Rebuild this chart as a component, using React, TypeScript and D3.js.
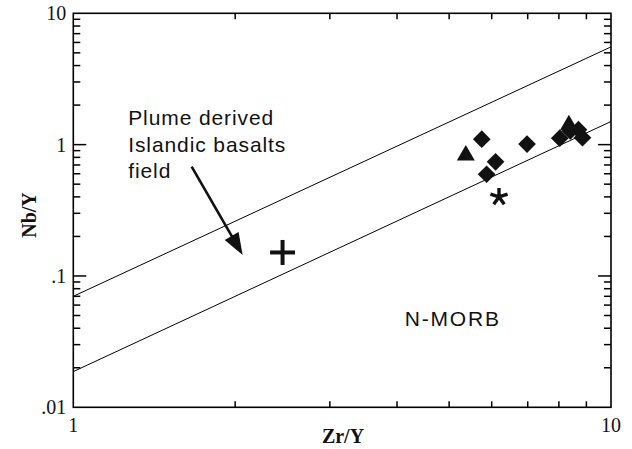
import React from 'react'
import * as d3 from 'd3'

// Zr/Y vs Nb/Y discrimination diagram
const diamondX = [5.75, 6.98, 6.10, 5.87, 8.03, 8.40, 8.70, 8.85]
const diamondY = [1.10, 1.01, 0.74, 0.595, 1.12, 1.27, 1.30, 1.13]
const triangleX = [5.37, 8.35]
const triangleY = [0.83, 1.41]
const starX = [6.19]
const starY = [0.40]
const crossX = [2.45]
const crossY = [0.151]

// field boundary lines (Zr/Y = 1 and 10)
const boundX = [1, 10]
const upperY = [0.07, 5.55]
const lowerY = [0.0187, 1.5]

const yTicks = [0.01, 0.1, 1, 10]
const yTickLabels = ['.01', '.1', '1', '10']
const xTicks = [1, 10]
const xTickLabels = ['1', '10']

const noteLines = ['Plume derived', 'Islandic basalts', 'field']

const W = 632
const H = 449
const margin = {top: 13.3, right: 21, bottom: 41.7, left: 73.3}

export default function App() {
    const innerW = W - margin.left - margin.right
    const innerH = H - margin.top - margin.bottom

    const x = d3.scaleLog().domain([1, 10]).range([margin.left, margin.left + innerW])
    const y = d3.scaleLog().domain([0.01, 10]).range([margin.top + innerH, margin.top])

    const x0 = margin.left, x1 = margin.left + innerW
    const y0 = margin.top + innerH, y1 = margin.top

    // minor ticks 2..9 in each decade
    const minorX = d3.range(2, 10)
    const minorY: number[] = []
    ;[0.01, 0.1, 1].forEach(d => d3.range(2, 10).forEach(k => minorY.push(d * k)))

    const line = d3.line<number>()
        .x((d, i) => x(boundX[i]))
        .y(d => y(d))

    const diamond = d3.symbol().type(d3.symbolDiamond2).size(200)()
    const triangle = d3.symbol().type(d3.symbolTriangle).size(140)()

    // five armed asterisk
    const starArms = d3.range(5).map(i => {
        const a = -Math.PI / 2 + i * 2 * Math.PI / 5
        return `M0,0L${9 * Math.cos(a)},${9 * Math.sin(a)}`
    }).join('')

    // arrow from label to field
    const ax0 = x(1.66), ay0 = y(0.68)
    const ax1 = x(2.065), ay1 = y(0.1445)
    const len = Math.hypot(ax1 - ax0, ay1 - ay0)
    const ux = (ax1 - ax0) / len, uy = (ay1 - ay0) / len
    const hl = 22, hw = 8
    const bx = ax1 - ux * hl, by = ay1 - uy * hl
    const head = `M${ax1},${ay1}L${bx - uy * hw},${by + ux * hw}L${bx + uy * hw},${by - ux * hw}Z`

    const serif = '"Liberation Serif", "Times New Roman", serif'
    const sans = '"Liberation Sans", Arial, sans-serif'

    return (
        <svg width={W} height={H} style={{position: 'absolute', left: 0, top: 0, background: '#fff'}}>
            <rect x={0} y={0} width={W} height={H} fill="#fff" />

            {/* boundary lines */}
            <path d={line(upperY) || ''} fill="none" stroke="#000" strokeWidth={1} />
            <path d={line(lowerY) || ''} fill="none" stroke="#000" strokeWidth={1} />

            {/* ticks */}
            <g stroke="#000" strokeWidth={1.5}>
                {minorY.map(v => (
                    <g key={'y' + v}>
                        <line x1={x0} x2={x0 + 7} y1={y(v)} y2={y(v)} />
                        <line x1={x1} x2={x1 - 7} y1={y(v)} y2={y(v)} />
                    </g>
                ))}
                {[0.1, 1].map(v => (
                    <g key={'ym' + v}>
                        <line x1={x0} x2={x0 + 13} y1={y(v)} y2={y(v)} />
                        <line x1={x1} x2={x1 - 13} y1={y(v)} y2={y(v)} />
                    </g>
                ))}
                {minorX.map(v => (
                    <g key={'x' + v}>
                        <line x1={x(v)} x2={x(v)} y1={y0} y2={y0 - 6} />
                        <line x1={x(v)} x2={x(v)} y1={y1} y2={y1 + 6} />
                    </g>
                ))}
            </g>

            <rect x={x0} y={y1} width={innerW} height={innerH} fill="none" stroke="#000" strokeWidth={1.6} />

            {/* tick labels */}
            <g fontFamily={serif} fontSize={20} fill="#111">
                {yTicks.map((v, i) => (
                    <text key={v} x={x0 - 7} y={y(v)} textAnchor="end" dominantBaseline="central">{yTickLabels[i]}</text>
                ))}
                {xTicks.map((v, i) => (
                    <text key={v} x={x(v)} y={y0 + 25} textAnchor="middle">{xTickLabels[i]}</text>
                ))}
            </g>

            {/* axis titles */}
            <text x={343} y={443} textAnchor="middle" fontFamily={serif} fontWeight="bold" fontSize={20} fill="#111">Zr/Y</text>
            <text transform={`translate(36, 215) rotate(-90)`} textAnchor="middle" fontFamily={serif} fontWeight="bold" fontSize={20} fill="#111">Nb/Y</text>

            {/* annotations */}
            <g fontFamily={sans} fontSize={21} fill="#111" letterSpacing={0.9}>
                {noteLines.map((t, i) => (
                    <text key={t} x={x(1.265)} y={y(1.41) + i * 26.7}>{t}</text>
                ))}
                <text x={x(4.135)} y={y(0.0416)} letterSpacing={1.8}>N-MORB</text>
            </g>

            <line x1={ax0} y1={ay0} x2={bx + ux * 2} y2={by + uy * 2} stroke="#111" strokeWidth={2.6} />
            <path d={head} fill="#111" />

            {/* samples */}
            <g fill="#111">
                {diamondX.map((v, i) => (
                    <path key={'d' + i} d={diamond || ''} transform={`translate(${x(v)},${y(diamondY[i])})`} />
                ))}
                {triangleX.map((v, i) => (
                    <path key={'t' + i} d={triangle || ''} transform={`translate(${x(v)},${y(triangleY[i])})`} />
                ))}
            </g>
            {starX.map((v, i) => (
                <path key={'s' + i} d={starArms} transform={`translate(${x(v)},${y(starY[i])})`} stroke="#111" strokeWidth={3.4} strokeLinecap="butt" fill="none" />
            ))}
            {crossX.map((v, i) => (
                <g key={'c' + i} transform={`translate(${x(v)},${y(crossY[i])})`} stroke="#111" strokeWidth={4}>
                    <line x1={-12.5} x2={12.5} y1={0} y2={0} />
                    <line x1={0} x2={0} y1={-12.5} y2={12.5} />
                </g>
            ))}
        </svg>
    )
}
